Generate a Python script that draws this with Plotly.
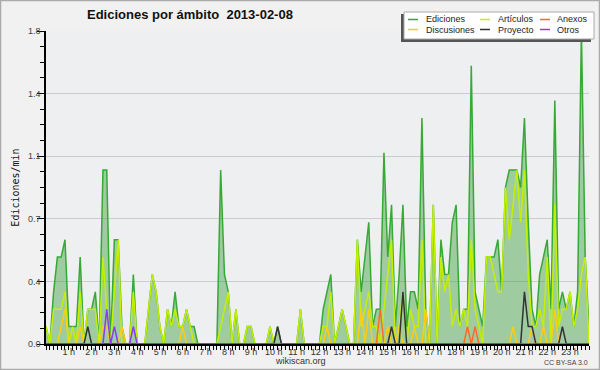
import plotly.graph_objects as go

# ---- data (edits per minute, 10-minute buckets, 2013-02-08) ----
minutes = list(range(0, 1440, 10))

ediciones = [
    .1, 0, .3, .5, .5, .6, .1, .1, .1, .5, 0, .2,
    .2, .3, 0, 1.0, 1.0, 0, .6, .6, .1, 0, 0, .4,
    0, 0, 0, .2, .4, .3, .1, 0, .2, .1, .3, .1,
    .1, .2, .1, .1, 0, 0, 0, 0, 0, 0, 1.0, .4,
    .3, 0, .2, 0, 0, .1, .1, 0, 0, 0, 0, .1,
    0, .1, 0, 0, 0, 0, 0, .2, 0, 0, 0, 0,
    0, .2, .3, .4, 0, .1, .2, .1, 0, 0, .6, .3,
    .5, .7, .1, .2, .2, 1.1, .5, .8, .1, .4, .8, .1,
    .3, .3, .2, 1.3, .2, 0, .8, 0, .6, .4, .4, .7,
    .8, .1, .2, .2, 1.6, .3, .2, .1, .5, .5, .5, .6,
    .3, .9, 1.0, 1.0, 1.0, .9, 1.3, .7, .2, .1, .4, .5,
    .6, .2, 1.4, .2, .3, .2, .3, .1, .3, 1.8, .5, .1,
]
articulos = [
    .1, 0, .2, .2, .2, .3, 0, .1, 0, .3, 0, .2,
    .2, .2, 0, .5, .2, 0, .3, .6, 0, 0, 0, .3,
    0, 0, 0, .2, .4, .3, .1, 0, .2, .1, .2, .1,
    .1, .2, .1, 0, 0, 0, 0, 0, 0, 0, .1, .2,
    .3, 0, .2, 0, 0, .1, .1, 0, 0, 0, 0, .1,
    0, 0, 0, 0, 0, 0, 0, .2, 0, 0, 0, 0,
    0, .1, .1, .3, 0, .1, .2, .1, 0, 0, .6, .1,
    .2, .3, .1, .1, 0, .2, .4, .6, 0, .1, .3, 0,
    .2, .1, .1, .6, 0, 0, .8, 0, .5, .3, .4, .1,
    .2, .1, .2, .1, .6, .2, .1, 0, .5, .5, .4, .3,
    .3, .9, .6, .8, 1.0, .7, 1.0, .4, .1, .1, .2, .1,
    .5, 0, .8, .1, .2, .2, .3, .1, .2, .4, .5, 0,
]
anexos = [0] * 144
for i, v in {88: .2, 111: .1, 113: .1}.items():
    anexos[i] = v
discusiones = [0] * 144
for i, v in {4: .1, 5: .2, 9: .1, 15: .1, 16: .1, 20: .1, 36: .1, 74: .1,
             83: .2, 85: .2, 90: .1, 93: .1, 97: .1, 100: .2, 123: .1,
             128: .1, 131: .1, 134: .2}.items():
    discusiones[i] = v
proyecto = [0] * 144
for i, v in {11: .1, 61: .1, 91: .1, 94: .3, 126: .3, 127: .1, 128: .1,
             136: .1}.items():
    proyecto[i] = v
otros = [0] * 144
for i, v in {16: .2, 18: .1, 23: .1}.items():
    otros[i] = v

series_names = ["Ediciones", "Artículos", "Anexos", "Discusiones", "Proyecto", "Otros"]
series_colors = ["#36a936", "#c4f000", "#ff6a2a", "#ffcc11", "#333333", "#8a3cf0"]

hour_ticks = list(range(60, 1440, 60))
hour_labels = [f"{h} h" for h in range(1, 24)]
y_tickvals = [0, 0.36, 0.72, 1.08, 1.44, 1.8]
y_ticktext = ["0.0", "0.4", "0.7", "1.1", "1.4", "1.8"]

# ---- figure ----
L, R, T, B = 46, 11, 31, 26
W, H = 600, 370
pw, ph = W - L - R, H - T - B


def px(x):
    return (x - L) / pw


def py(y):
    return (H - B - y) / ph


fig = go.Figure()
data_map = {
    "Ediciones": ediciones, "Artículos": articulos, "Anexos": anexos,
    "Discusiones": discusiones, "Proyecto": proyecto, "Otros": otros,
}
fig.add_trace(go.Scatter(
    x=minutes, y=ediciones, name="Ediciones", mode="lines",
    line=dict(color=series_colors[0], width=1.5),
    fill="tozeroy", fillcolor="rgba(60,160,60,0.45)", showlegend=False,
))
for name, color in zip(series_names[1:], series_colors[1:]):
    fig.add_trace(go.Scatter(
        x=minutes, y=data_map[name], name=name, mode="lines",
        line=dict(color=color, width=1.5), showlegend=False,
    ))

fig.update_layout(
    width=W, height=H, autosize=False,
    margin=dict(l=L, r=R, t=T, b=B, pad=0, autoexpand=False),
    paper_bgcolor="#f1f1f1", plot_bgcolor="#eeeff0",
    font=dict(family="Liberation Sans", size=9, color="#333"),
    xaxis=dict(
        range=[0, 1430], tickmode="array", tickvals=hour_ticks, ticktext=hour_labels,
        showgrid=False, zeroline=False, showline=True, linecolor="black", linewidth=1.5,
        ticks="outside", ticklen=4, tickcolor="black", tickwidth=1, automargin=False,
        ticklabelstandoff=-6,
        tickfont=dict(size=9, color="#333"),
        minor=dict(dtick=10, tick0=0, ticks="outside", ticklen=4, tickcolor="black", showgrid=False),
    ),
    yaxis=dict(
        range=[0, 1.8], tickmode="array", tickvals=y_tickvals, ticktext=y_ticktext,
        showgrid=True, gridcolor="#cccccc", gridwidth=1, zeroline=False,
        showline=True, linecolor="black", linewidth=1.5, automargin=False,
        ticks="outside", ticklen=7, tickcolor="black", ticklabelstandoff=-5,
        tickfont=dict(size=9, color="#444"),
        minor=dict(dtick=0.09, tick0=0, ticks="outside", ticklen=4, tickcolor="black", showgrid=False),
        title=dict(text="Ediciones/min", font=dict(family="DejaVu Sans Mono", size=10, color="#111"), standoff=6),
    ),
)

shapes = []
annotations = []
# outer frame
shapes.append(dict(type="rect", xref="paper", yref="paper", x0=px(0.5), x1=px(599.5),
                   y0=py(369.5), y1=py(0.5), line=dict(color="#aaaaaa", width=1.5),
                   layer="below"))
# legend box with shadow
shapes.append(dict(type="rect", xref="paper", yref="paper", x0=px(401), x1=px(591),
                   y0=py(42), y1=py(14), fillcolor="#555555", line=dict(width=0)))
shapes.append(dict(type="rect", xref="paper", yref="paper", x0=px(404), x1=px(594),
                   y0=py(39), y1=py(12), fillcolor="white", line=dict(color="#aaaaaa", width=1)))
col_line_x = [(408, 418), (480, 490), (540, 550)]
col_text_x = [424, 496, 555]
row_y = [19.5, 29.5]
for k, (name, color) in enumerate(zip(series_names, series_colors)):
    r, c = divmod(k, 3)
    x0, x1 = col_line_x[c]
    shapes.append(dict(type="line", xref="paper", yref="paper", x0=px(x0), x1=px(x1),
                       y0=py(row_y[r]), y1=py(row_y[r]), line=dict(color=color, width=1.5)))
    annotations.append(dict(text=name, xref="paper", yref="paper", x=px(col_text_x[c]),
                            y=py(row_y[r]), xanchor="left", yanchor="middle", showarrow=False,
                            font=dict(family="Liberation Sans", size=9, color="#222")))

annotations.append(dict(text="<b>Ediciones por ámbito  2013-02-08</b>", xref="paper", yref="paper",
                        x=px(85), y=py(14), xanchor="left", yanchor="middle", showarrow=False,
                        font=dict(family="Liberation Sans", size=13, color="#111")))
annotations.append(dict(text="wikiscan.org", xref="paper", yref="paper", x=px(300), y=py(361),
                        xanchor="center", yanchor="middle", showarrow=False,
                        font=dict(family="Liberation Sans", size=9, color="#333")))
annotations.append(dict(text="CC BY-SA 3.0", xref="paper", yref="paper", x=px(590), y=py(362.5),
                        xanchor="right", yanchor="middle", showarrow=False,
                        font=dict(family="Liberation Sans", size=7, color="#444")))
fig.update_layout(shapes=shapes, annotations=annotations)

fig.write_html("out.html", config={"displayModeBar": False},
               post_script="document.body.style.margin='0';document.body.style.padding='0';")
